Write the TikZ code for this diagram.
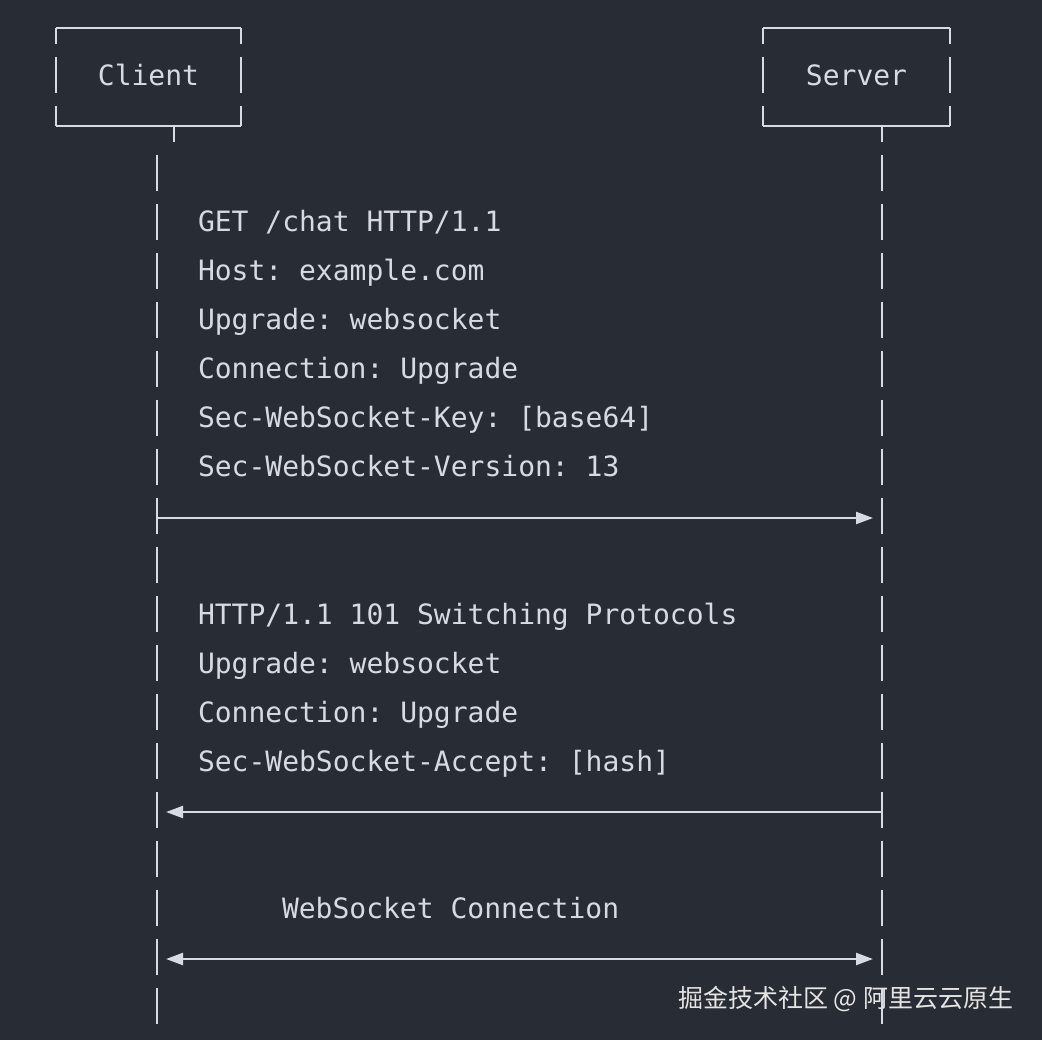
\documentclass[tikz,border=0pt]{standalone}
\usepackage{fontspec}
\setmonofont{DejaVu Sans Mono}
\newfontfamily\cjk{Noto Sans CJK SC}
\usetikzlibrary{arrows.meta}
\definecolor{bg}{HTML}{282C34}
\definecolor{fg}{HTML}{D7DAE0}
\definecolor{ln}{HTML}{D8DCE2}
\definecolor{wm}{HTML}{E4E4E4}
\begin{document}
\begin{tikzpicture}[x=1pt,y=-1pt,
  every node/.style={inner sep=0pt, outer sep=0pt},
  mono/.style={font=\ttfamily\fontsize{28}{28}\selectfont, text=fg},
  txt/.style={mono, anchor=base west},
  actor/.style={minimum height=98pt},
  solidline/.style={draw=ln, line width=2.2pt},
  lifeline/.style={draw=ln, line width=2.2pt, dash pattern=on 36pt off 13pt},
  boxside/.style={lifeline, dash phase=20pt},
  tip/.style={Triangle[length=17pt,width=12pt]},
  msg/.style={draw=ln, line width=2.2pt, -{Triangle[length=17pt,width=12pt]}, shorten >=9pt},
  bimsg/.style={draw=ln, line width=2.2pt, {Triangle[length=17pt,width=12pt]}-{Triangle[length=17pt,width=12pt]}, shorten >=9pt, shorten <=9pt}
]
\fill[bg] (0,0) rectangle (1042,1040);
\useasboundingbox (0,0) rectangle (1042,1040);

% actors
\node[actor, minimum width=185pt] (client) at (148.5,77) {};
\node[actor, minimum width=187pt] (server) at (856.5,77) {};
\node[mono] (clientlbl) at (148.5,75) {Client};
\node[mono] (serverlbl) at (856.5,75) {Server};

\foreach \b in {client,server}{
  \draw[solidline] (\b.north west) -- (\b.north east);
  \draw[solidline] (\b.south west) -- (\b.south east);
  \draw[boxside] (\b.north west) -- (\b.south west);
  \draw[boxside] (\b.north east) -- (\b.south east);
}

% ticks and lifelines
\coordinate (ctick) at (174,142);
\coordinate (stick) at (882,142);
\draw[solidline] (client.south -| ctick) -- (ctick);
\draw[solidline] (server.south -| stick) -- (stick);

\coordinate (cltop) at (157,155);
\coordinate (clbot) at (157,1024);
\coordinate (sltop) at (882,155);
\coordinate (slbot) at (882,1024);
\draw[lifeline] (cltop) -- (clbot);
\draw[lifeline] (sltop) -- (slbot);

% request
\node[txt] (r1) at (198,232) {GET /chat HTTP/1.1};
\node[txt] (r2) at (198,281) {Host: example.com};
\node[txt] (r3) at (198,330) {Upgrade: websocket};
\node[txt] (r4) at (198,379) {Connection: Upgrade};
\node[txt] (r5) at (198,428) {Sec-WebSocket-Key: [base64]};
\node[txt] (r6) at (198,477) {Sec-WebSocket-Version: 13};
\coordinate (creq) at (157,518);
\coordinate (sreq) at (882,518);
\draw[msg] (creq) -- (sreq);

% response
\node[txt] (p1) at (198,624) {HTTP/1.1 101 Switching Protocols};
\node[txt] (p2) at (198,673) {Upgrade: websocket};
\node[txt] (p3) at (198,722) {Connection: Upgrade};
\node[txt] (p4) at (198,771) {Sec-WebSocket-Accept: [hash]};
\coordinate (cres) at (157,812);
\coordinate (sres) at (881,812);
\draw[msg] (sres) -- (cres);

% websocket
\node[txt] (w1) at (282,918) {WebSocket Connection};
\coordinate (cws) at (157,959);
\coordinate (sws) at (882,959);
\draw[bimsg] (cws) -- (sws);

% watermark
\node[font=\cjk\fontsize{25}{25}\selectfont, text=wm, anchor=base east] (wmk) at (1013,1007) {掘金技术社区 @ 阿里云云原生};
\end{tikzpicture}
\end{document}
